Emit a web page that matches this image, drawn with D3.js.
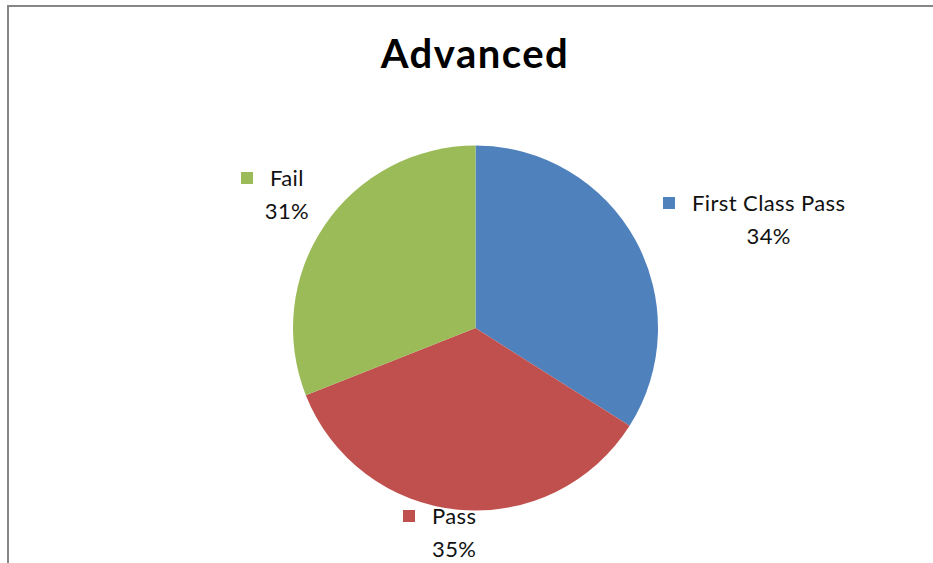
<!DOCTYPE html>
<html>
<head>
<meta charset="utf-8">
<script src="https://cdn.jsdelivr.net/npm/d3@7"></script>
<style>
  body { margin: 0; background: #fff; }
  text { font-family: Lato, "Open Sans", sans-serif; }
</style>
</head>
<body>
<div id="chart"></div>
<script>
const width = 933;
const height = 563;

// data
const categories = ["First Class Pass", "Pass", "Fail"];
const shares = [34, 35, 31];
const colors = ["#4F81BD", "#C0504D", "#9BBB59"];

// where each label block sits (left edge of key square, baseline of first line)
const labelPos = [[663, 211], [403, 524], [241, 186]];

const svg = d3.select("#chart")
  .append("svg")
    .attr("width", width)
    .attr("height", height);

// chart frame (right and bottom edges fall outside the shot)
svg.append("rect")
  .attr("x", 8)
  .attr("y", 6)
  .attr("width", width + 20)
  .attr("height", height + 20)
  .attr("fill", "none")
  .attr("stroke", "#868686")
  .attr("stroke-width", 2);

svg.append("text")
  .attr("x", 475)
  .attr("y", 68)
  .attr("text-anchor", "middle")
  .attr("font-size", 40)
  .attr("font-weight", "bold")
  .attr("letter-spacing", 1.5)
  .attr("fill", "#000")
  .text("Advanced");

/* ----------------------- pie ----------------------- */
const cx = 475.5, cy = 328, radius = 182.5;

const pie = d3.pie().sort(null).value(d => d);
const arc = d3.arc().innerRadius(0).outerRadius(radius);

const g = svg.append("g")
  .attr("transform", `translate(${cx},${cy})`);

g.selectAll("path")
  .data(pie(shares))
  .join("path")
    .attr("d", arc)
    .attr("fill", (d, i) => colors[i]);

/* ----------------------- labels ----------------------- */
const labels = svg.selectAll(".lbl")
  .data(categories)
  .join("g")
    .attr("class", "lbl")
    .attr("transform", (d, i) => `translate(${labelPos[i][0]},${labelPos[i][1]})`);

labels.append("rect")
  .attr("x", 0)
  .attr("y", -14)
  .attr("width", 12)
  .attr("height", 12)
  .attr("fill", (d, i) => colors[i]);

labels.append("text")
  .attr("class", "name")
  .attr("x", 29)
  .attr("y", 0)
  .attr("font-size", 22)
  .attr("letter-spacing", 0.4)
  .attr("fill", "#111")
  .text(d => d);

// percent centred under the name
labels.each(function (d, i) {
  const grp = d3.select(this);
  const w = grp.select(".name").node().getComputedTextLength();
  grp.append("text")
    .attr("x", 29 + w / 2)
    .attr("y", 33)
    .attr("text-anchor", "middle")
    .attr("font-size", 22)
    .attr("letter-spacing", 0.4)
    .attr("fill", "#111")
    .text(shares[i] + "%");
});
</script>
</body>
</html>
